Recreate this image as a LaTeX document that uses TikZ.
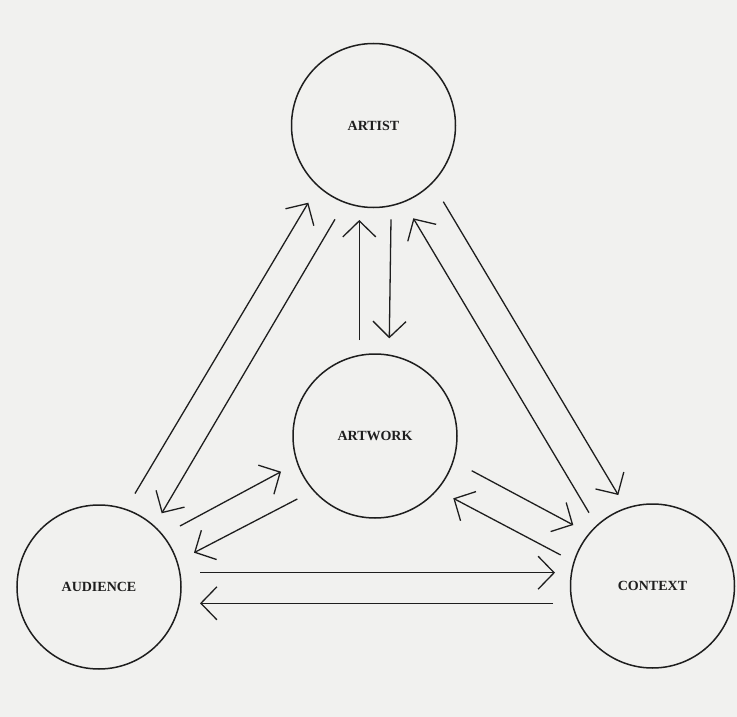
\documentclass[tikz,border=0pt]{standalone}
\usepackage{fontspec}
\setmainfont{Liberation Serif}
\usetikzlibrary{arrows.meta}
\definecolor{paper}{RGB}{241,241,239}
\definecolor{ink}{RGB}{30,30,30}
\tikzset{
  party/.style={circle, draw=ink, line width=1.5pt, minimum size=164pt,
    inner sep=0pt, text=ink, font=\fontsize{14}{16}\selectfont\bfseries},
  flow/.style={draw=ink, line width=1.3pt,
    -{Straight Barb[length=16pt,width=33pt,line width=1.3pt]}}
}
\begin{document}
\begin{tikzpicture}[x=1pt,y=-1pt]
  \fill[paper] (0,0) rectangle (737,717);
  \useasboundingbox (0,0) rectangle (737,717);

  %% parties
  \node[party] (artist)   at (373.5,125.5) {ARTIST};
  \node[party] (artwork)  at (375,436)     {ARTWORK};
  \node[party] (audience) at (99,587)      {AUDIENCE};
  \node[party] (context)  at (652.5,586)   {CONTEXT};

  %% artist - audience
  \draw[flow] ([shift={(36,-93.5)}]audience.center) -- ([shift={(-65.2,77.2)}]artist.center);
  \draw[flow] ([shift={(-38.5,93.8)}]artist.center) -- ([shift={(62.7,-73.7)}]audience.center);

  %% artist - artwork
  \draw[flow] ([shift={(-15.7,-96)}]artwork.center) -- ([shift={(-14.2,94.5)}]artist.center);
  \draw[flow] ([shift={(17.5,93.8)}]artist.center) -- ([shift={(14.3,-97.7)}]artwork.center);

  %% artist - context
  \draw[flow] ([shift={(-63.5,-73.3)}]context.center) -- ([shift={(39.8,92.8)}]artist.center);
  \draw[flow] ([shift={(69.8,76.2)}]artist.center) -- ([shift={(-34.2,-91)}]context.center);

  %% artwork - audience
  \draw[flow] ([shift={(81,-61)}]audience.center) -- ([shift={(-94,35.7)}]artwork.center);
  \draw[flow] ([shift={(-77.7,63)}]artwork.center) -- ([shift={(95,-34.3)}]audience.center);

  %% artwork - context
  \draw[flow] ([shift={(96.7,34.7)}]artwork.center) -- ([shift={(-79.2,-61)}]context.center);
  \draw[flow] ([shift={(-91.8,-31)}]context.center) -- ([shift={(78.3,62.3)}]artwork.center);

  %% audience - context
  \draw[flow] ([shift={(101,-14.3)}]audience.center) -- ([shift={(-97.5,-13.3)}]context.center);
  \draw[flow] ([shift={(-99.5,17.3)}]context.center) -- ([shift={(101,16.3)}]audience.center);
\end{tikzpicture}
\end{document}
